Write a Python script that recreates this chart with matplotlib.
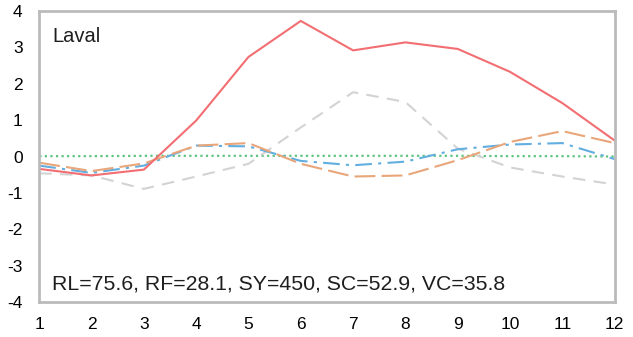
import matplotlib
matplotlib.use("Agg")
import matplotlib.pyplot as plt

plt.rcParams['font.family'] = ['Liberation Sans', 'DejaVu Sans']
plt.rcParams['axes.unicode_minus'] = False

months = list(range(1, 13))
red = [-0.34, -0.52, -0.36, 0.99, 2.74, 3.73, 2.92, 3.14, 2.96, 2.33, 1.47, 0.44]
gray = [-0.46, -0.52, -0.89, -0.55, -0.2, 0.8, 1.77, 1.5, 0.22, -0.3, -0.55, -0.77]
orange = [-0.17, -0.4, -0.19, 0.3, 0.37, -0.2, -0.55, -0.52, -0.1, 0.4, 0.7, 0.37]
blue = [-0.25, -0.45, -0.25, 0.3, 0.28, -0.12, -0.24, -0.14, 0.2, 0.33, 0.37, -0.07]
green = [0.01, 0.01, 0.02, 0.02, 0.02, 0.02, 0.02, 0.02, 0.02, 0.01, 0.01, 0.0]

fig = plt.figure(figsize=(6.33, 3.37), dpi=100)
ax = fig.add_axes((0.062, 0.104, 0.909, 0.863))

ax.plot(months, green, color='#5CC47E', lw=1.6, ls=(0, (1, 1.5)))
ax.plot(months, gray, color='#D3D3D3', lw=1.5, ls=(0, (6, 4)))
ax.plot(months, blue, color='#62AEE0', lw=1.5, ls=(0, (8, 3, 1.5, 3)))
ax.plot(months, orange, color='#E8A67A', lw=1.5, ls=(0, (10, 3)))
ax.plot(months, red, color='#F26E72', lw=1.5)

ax.set_xlim(1, 12)
ax.set_ylim(-4, 4)
ax.set_xticks(months)
ax.set_yticks(range(-4, 5))
ax.tick_params(length=0, labelsize=12.5)
ax.tick_params(axis='x', pad=11)
ax.tick_params(axis='y', pad=12)
for s in ax.spines.values():
    s.set_color('#BBBBBB')
    s.set_linewidth(2)

ax.text(0.022, 0.945, 'Laval', transform=ax.transAxes, fontsize=14.5, va='top', ha='left', color='#1E1E1E')
ax.text(0.022, 0.03, 'RL=75.6, RF=28.1, SY=450, SC=52.9, VC=35.8', transform=ax.transAxes,
        fontsize=15.3, va='bottom', ha='left', color='#1E1E1E')

fig.savefig('out.png', dpi=100)
